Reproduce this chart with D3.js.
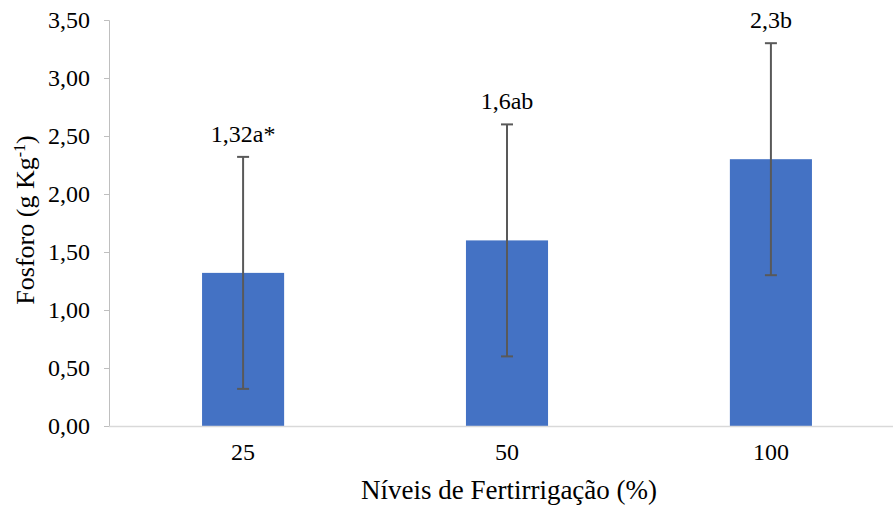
<!DOCTYPE html>
<html>
<head>
<meta charset="utf-8">
<script src="https://cdn.jsdelivr.net/npm/d3@7"></script>
<style>
  html, body { margin: 0; padding: 0; background: #fff; }
</style>
</head>
<body>
<svg id="chart" width="893" height="506"></svg>
<script>
// Phosphorus content by fertigation level
const levels = ["25", "50", "100"];
const means = [1.32, 1.6, 2.3];
const errors = [1.0, 1.0, 1.0];
const labels = ["1,32a*", "1,6ab", "2,3b"];
const yTicks = [0, 0.5, 1, 1.5, 2, 2.5, 3, 3.5];

const FONT = "'Liberation Serif', 'Times New Roman', serif";
const svg = d3.select("#chart");
const plot = { left: 109, right: 903, top: 20, bottom: 426 };

const x = d3.scaleBand().domain(levels).range([plot.left + 2, plot.right]).paddingInner(0.689).paddingOuter(0.345);
const y = d3.scaleLinear().domain([0, 3.5]).range([plot.bottom, plot.top]);
const fmt = v => d3.format(".2f")(v).replace(".", ",");

// Y axis
const yAxis = svg.append("g")
  .attr("transform", `translate(${plot.left},0)`)
  .call(d3.axisLeft(y).tickValues(yTicks).tickFormat(fmt).tickSize(5).tickPadding(14));
yAxis.select(".domain").attr("stroke", "#bfbfbf").attr("stroke-width", 1);
yAxis.selectAll(".tick line").attr("stroke", "#bfbfbf");
yAxis.selectAll(".tick text").style("font-family", FONT).style("font-size", "24px").attr("fill", "#000");

// Bars
svg.append("g").selectAll("rect")
  .data(levels)
  .join("rect")
  .attr("x", d => x(d))
  .attr("width", x.bandwidth())
  .attr("y", (d, i) => y(means[i]))
  .attr("height", (d, i) => y(0) - y(means[i]))
  .attr("fill", "#4472c4");

// X axis
const xAxis = svg.append("g")
  .attr("transform", `translate(0,${plot.bottom})`)
  .call(d3.axisBottom(x).tickSize(0).tickPadding(17));
xAxis.select(".domain").attr("stroke", "#d9d9d9").attr("stroke-width", 1.5)
  .attr("d", `M${plot.left},0.5H${plot.right}`);
xAxis.selectAll(".tick text").style("font-family", FONT).style("font-size", "24px").attr("fill", "#000");

// Error bars
const eb = svg.append("g").attr("stroke", "#595959").attr("stroke-width", 2);
levels.forEach((d, i) => {
  const cx = x(d) + x.bandwidth() / 2;
  const hi = y(means[i] + errors[i]);
  const lo = y(means[i] - errors[i]);
  eb.append("line").attr("x1", cx).attr("x2", cx).attr("y1", hi).attr("y2", lo);
  eb.append("line").attr("x1", cx - 6).attr("x2", cx + 6).attr("y1", hi).attr("y2", hi);
  eb.append("line").attr("x1", cx - 6).attr("x2", cx + 6).attr("y1", lo).attr("y2", lo);
});

// Value labels
svg.append("g").selectAll("text")
  .data(levels)
  .join("text")
  .attr("x", d => x(d) + x.bandwidth() / 2)
  .attr("y", (d, i) => y(means[i] + errors[i]) - 15)
  .attr("text-anchor", "middle")
  .style("font-family", FONT)
  .style("font-size", "24px")
  .attr("fill", "#000")
  .text((d, i) => labels[i]);

// Axis titles
svg.append("text")
  .attr("x", 509).attr("y", 499)
  .attr("text-anchor", "middle")
  .style("font-family", FONT)
  .style("font-size", "27px")
  .attr("fill", "#000")
  .text("Níveis de Fertirrigação (%)");

const yt = svg.append("text")
  .attr("transform", "translate(34,220) rotate(-90)")
  .attr("text-anchor", "middle")
  .style("font-family", FONT)
  .style("font-size", "26px")
  .attr("fill", "#000");
yt.append("tspan").text("Fosforo (g Kg");
yt.append("tspan").attr("dy", -9).style("font-size", "16px").text("-1");
yt.append("tspan").attr("dy", 9).text(")");
</script>
</body>
</html>
